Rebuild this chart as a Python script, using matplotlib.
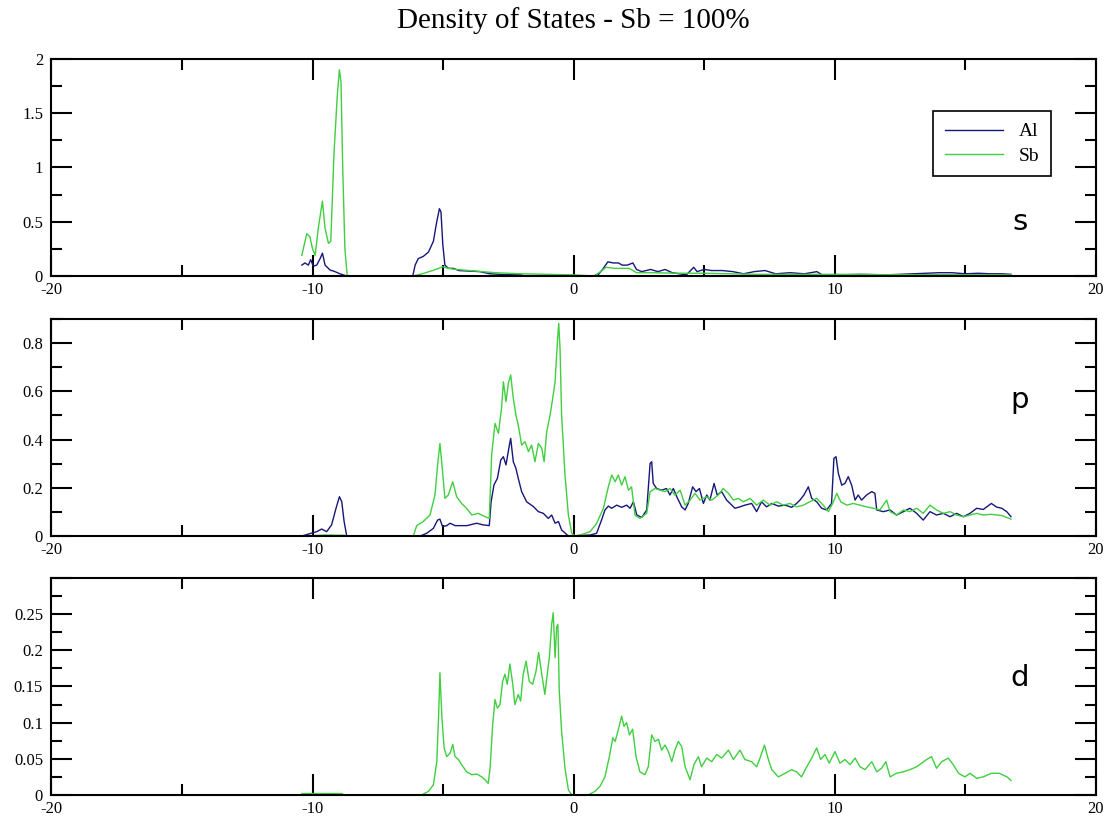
import matplotlib
matplotlib.use("Agg")
import matplotlib.pyplot as plt
from matplotlib.ticker import MultipleLocator, FuncFormatter

# ---- data (energy in eV, DOS) ----
# s orbitals
s_al_e = [-10.41, -10.29, -10.16, -10.07, -9.97, -9.84, -9.71, -9.62, -9.52, -9.33, -9.14, -8.95,
          -8.76, -8.69, -6.16, -6.07, -5.95, -5.76, -5.56, -5.37, -5.25, -5.14, -5.08, -5.01,
          -4.93, -4.80, -4.60, -4.40, -4.0, -3.6, -3.2, -2.6, -2.0, -1.9, 0.9, 1.11, 1.31, 1.52,
          1.72, 1.86, 2.06, 2.27, 2.41, 2.61, 2.95, 3.23, 3.5, 3.78, 4.32, 4.6, 4.73, 5.0, 5.28,
          5.69, 6.1, 6.51, 6.92, 7.33, 7.74, 8.29, 8.84, 9.32, 9.52, 10.07, 11.0, 12.0, 13.0,
          14.0, 14.5, 15.0, 15.5, 15.95, 16.4, 16.75]
s_al = [0.10, 0.12, 0.10, 0.15, 0.09, 0.10, 0.16, 0.21, 0.10, 0.055, 0.04, 0.02,
        0.005, 0.0, 0.0, 0.10, 0.16, 0.18, 0.22, 0.32, 0.49, 0.62, 0.59, 0.29,
        0.10, 0.07, 0.07, 0.05, 0.045, 0.04, 0.02, 0.012, 0.01, 0.0, 0.0, 0.06, 0.13, 0.12,
        0.12, 0.10, 0.10, 0.12, 0.06, 0.04, 0.06, 0.04, 0.06, 0.03, 0.01, 0.08, 0.04, 0.06, 0.05,
        0.05, 0.04, 0.02, 0.04, 0.05, 0.02, 0.03, 0.02, 0.04, 0.01, 0.01, 0.015, 0.01, 0.02,
        0.03, 0.03, 0.02, 0.025, 0.02, 0.02, 0.015]

s_sb_e = [-10.41, -10.22, -10.10, -10.0, -9.9, -9.78, -9.62, -9.52, -9.39, -9.30, -9.18, -9.05,
          -8.97, -8.91, -8.84, -8.76, -8.67, -6.14, -5.8, -5.4, -5.01, -4.8, -4.5, -4.0, -3.5,
          -3.0, -2.0, -1.0, 0.0, 0.77, 1.04, 1.24, 1.59, 2.13, 2.41, 3.0, 4.0, 5.0, 6.0, 7.0,
          8.0, 10.0, 12.0, 14.0, 16.0, 16.75]
s_sb = [0.19, 0.39, 0.36, 0.25, 0.19, 0.44, 0.69, 0.44, 0.30, 0.32, 1.12, 1.67,
        1.90, 1.79, 0.96, 0.25, 0.0, 0.0, 0.02, 0.05, 0.085, 0.07, 0.06, 0.05, 0.04,
        0.03, 0.02, 0.015, 0.01, 0.0, 0.04, 0.08, 0.07, 0.07, 0.03, 0.03, 0.025, 0.025, 0.02, 0.015,
        0.015, 0.015, 0.012, 0.012, 0.01, 0.01]

# p orbitals
p_al_e = [-10.41, -9.84, -9.65, -9.46, -9.27, -9.10, -8.97, -8.88, -8.79, -8.69, -5.88, -5.63,
          -5.37, -5.21, -5.12, -5.02, -4.86, -4.73, -4.54, -4.09, -3.71, -3.46, -3.23, -3.16,
          -3.05, -2.92, -2.79, -2.69, -2.59, -2.47, -2.41, -2.31, -2.21, -2.12, -1.99, -1.80,
          -1.54, -1.35, -1.16, -0.97, -0.84, -0.71, -0.58, -0.46, -0.2, 0.63, 0.88, 1.07, 1.2,
          1.33, 1.46, 1.65, 1.84, 2.03, 2.16, 2.29, 2.42, 2.61, 2.8, 2.93, 2.99, 3.05, 3.18, 3.37,
          3.56, 3.69, 3.82, 3.95, 4.14, 4.27, 4.39, 4.56, 4.69, 4.82, 4.97, 5.1, 5.22, 5.38, 5.5,
          5.67, 5.86, 5.99, 6.18, 6.37, 6.56, 6.82, 7.01, 7.2, 7.39, 7.59, 7.84, 8.1, 8.35, 8.54,
          8.67, 8.82, 8.99, 9.12, 9.31, 9.5, 9.69, 9.88, 9.97, 10.05, 10.14, 10.27, 10.39, 10.52,
          10.65, 10.78, 10.9, 11.03, 11.22, 11.42, 11.54, 11.61, 11.86, 12.12, 12.37, 12.63,
          12.88, 13.14, 13.39, 13.65, 13.9, 14.16, 14.42, 14.67, 14.93, 15.18, 15.44, 15.69,
          16.0, 16.2, 16.4, 16.6, 16.75]
p_al = [0.0, 0.018, 0.029, 0.018, 0.046, 0.115, 0.163, 0.142, 0.06, 0.0, 0.0, 0.011,
        0.032, 0.066, 0.07, 0.039, 0.043, 0.053, 0.043, 0.043, 0.053, 0.046, 0.043, 0.142,
        0.212, 0.239, 0.315, 0.329, 0.295, 0.371, 0.405, 0.308, 0.281, 0.239, 0.184, 0.142,
        0.122, 0.101, 0.094, 0.073, 0.087, 0.053, 0.06, 0.025, 0.0, 0.004, 0.011, 0.066, 0.108,
        0.124, 0.115, 0.128, 0.119, 0.128, 0.115, 0.142, 0.087, 0.077, 0.108, 0.301, 0.308, 0.218, 0.197, 0.19,
        0.197, 0.17, 0.197, 0.163, 0.121, 0.108, 0.135, 0.204, 0.184, 0.197, 0.135, 0.17, 0.149, 0.218, 0.17,
        0.184, 0.149, 0.135, 0.115, 0.121, 0.128, 0.135, 0.101, 0.142, 0.121, 0.135, 0.124, 0.128, 0.119, 0.135,
        0.149, 0.17, 0.204, 0.156, 0.142, 0.115, 0.108, 0.135, 0.322, 0.329, 0.26, 0.211, 0.218, 0.246,
        0.211, 0.149, 0.17, 0.149, 0.17, 0.184, 0.177, 0.108, 0.101, 0.108, 0.087, 0.101,
        0.115, 0.094, 0.066, 0.101, 0.087, 0.094, 0.08, 0.094, 0.08, 0.094, 0.115, 0.11,
        0.135, 0.12, 0.115, 0.10, 0.08]

p_sb_e = [-10.41, -9.5, -8.8, -8.7, -6.14, -6.01, -5.76, -5.5, -5.31, -5.21, -5.12, -5.03, -4.93,
          -4.80, -4.63, -4.48, -4.29, -4.1, -3.9, -3.65, -3.39, -3.23, -3.14, -3.01, -2.88,
          -2.76, -2.69, -2.59, -2.5, -2.41, -2.31, -2.21, -2.12, -1.99, -1.86, -1.73, -1.61,
          -1.48, -1.35, -1.22, -1.13, -1.03, -0.9, -0.8, -0.71, -0.62, -0.57, -0.52, -0.46,
          -0.33, -0.2, -0.07, 0.05, 0.25, 0.63, 0.88, 1.14, 1.33, 1.46, 1.59, 1.71, 1.84, 1.97,
          2.1, 2.22, 2.35, 2.54, 2.8, 2.93, 3.12, 3.31, 3.5, 3.69, 3.88, 4.08, 4.27, 4.46, 4.65,
          4.84, 5.1, 5.29, 5.54, 5.73, 5.93, 6.12, 6.31, 6.5, 6.76, 7.01, 7.27, 7.52, 7.78, 8.03,
          8.29, 8.54, 8.8, 9.05, 9.31, 9.56, 9.76, 9.95, 10.08, 10.23, 10.46, 10.71, 10.97,
          11.22, 11.48, 11.73, 11.99, 12.12, 12.37, 12.63, 12.88, 13.14, 13.39, 13.65, 13.9,
          14.16, 14.42, 14.67, 14.93, 15.18, 15.44, 15.69, 16.0, 16.4, 16.75]
p_sb = [0.0, 0.004, 0.003, 0.0, 0.0, 0.043, 0.06, 0.087, 0.17, 0.295, 0.384, 0.281, 0.156,
        0.17, 0.225, 0.163, 0.135, 0.115, 0.087, 0.094, 0.08, 0.073, 0.336, 0.467, 0.426,
        0.53, 0.64, 0.557, 0.633, 0.668, 0.571, 0.502, 0.46, 0.377, 0.391, 0.35, 0.377,
        0.308, 0.384, 0.364, 0.308, 0.433, 0.502, 0.571, 0.64, 0.806, 0.882, 0.779, 0.502,
        0.253, 0.087, 0.011, 0.0, 0.004, 0.018, 0.052, 0.115, 0.204, 0.253, 0.225, 0.253, 0.211, 0.246,
        0.19, 0.204, 0.087, 0.073, 0.094, 0.184, 0.197, 0.19, 0.184, 0.197, 0.17, 0.19, 0.128, 0.149, 0.177,
        0.149, 0.163, 0.149, 0.17, 0.197, 0.177, 0.149, 0.156, 0.142, 0.156, 0.128, 0.149, 0.128, 0.142, 0.128,
        0.135, 0.121, 0.128, 0.142, 0.156, 0.128, 0.101, 0.142, 0.177, 0.142, 0.128, 0.135, 0.128,
        0.121, 0.115, 0.108, 0.149, 0.101, 0.087, 0.108, 0.101, 0.115, 0.094, 0.128, 0.108,
        0.094, 0.101, 0.087, 0.08, 0.087, 0.094, 0.087, 0.09, 0.085, 0.07]

# d orbitals (Sb only)
d_sb_e = [-10.41, -9.5, -8.88, -8.8, -5.82, -5.56, -5.37, -5.24, -5.17, -5.12, -5.05, -4.96, -4.86,
          -4.73, -4.63, -4.54, -4.41, -4.29, -4.1, -3.9, -3.71, -3.52, -3.39, -3.27, -3.2, -3.1,
          -3.01, -2.92, -2.82, -2.72, -2.63, -2.54, -2.44, -2.33, -2.25, -2.12, -2.03, -1.93,
          -1.82, -1.7, -1.57, -1.44, -1.34, -1.22, -1.1, -1.01, -0.93, -0.84, -0.78, -0.71,
          -0.65, -0.6, -0.55, -0.46, -0.33, -0.2, -0.07, 0.56, 0.82, 1.01, 1.2, 1.37, 1.5, 1.59,
          1.71, 1.84, 1.93, 2.03, 2.14, 2.26, 2.39, 2.54, 2.73, 2.86, 2.99, 3.12, 3.25, 3.37,
          3.5, 3.63, 3.76, 3.88, 4.01, 4.14, 4.27, 4.46, 4.61, 4.78, 4.9, 5.1, 5.29, 5.48, 5.67,
          5.93, 6.12, 6.37, 6.56, 6.82, 7.01, 7.14, 7.31, 7.46, 7.59, 7.84, 8.1, 8.35, 8.54,
          8.73, 8.93, 9.12, 9.31, 9.46, 9.63, 9.79, 10.01, 10.2, 10.39, 10.59, 10.78, 10.97,
          11.16, 11.42, 11.61, 11.8, 11.96, 12.12, 12.37, 12.63, 12.88, 13.14, 13.33, 13.52,
          13.71, 13.9, 14.1, 14.35, 14.54, 14.74, 14.99, 15.18, 15.44, 15.69, 16.0, 16.3, 16.6,
          16.75]
d_sb = [0.002, 0.002, 0.002, 0.0, 0.0, 0.005, 0.014, 0.046, 0.111, 0.169, 0.111, 0.065, 0.053,
        0.058, 0.07, 0.053, 0.049, 0.042, 0.032, 0.028, 0.029, 0.025, 0.021, 0.016, 0.037, 0.097,
        0.132, 0.12, 0.125, 0.157, 0.167, 0.153, 0.181, 0.153, 0.125, 0.139, 0.13, 0.167,
        0.185, 0.157, 0.153, 0.171, 0.197, 0.167, 0.139, 0.167, 0.19, 0.236, 0.252, 0.19,
        0.232, 0.236, 0.144, 0.088, 0.037, 0.007, 0.0, 0.0, 0.005, 0.012, 0.025, 0.053, 0.079, 0.074,
        0.09, 0.109, 0.095, 0.1, 0.083, 0.091, 0.053, 0.032, 0.028, 0.039, 0.083, 0.074, 0.077, 0.062,
        0.069, 0.06, 0.046, 0.062, 0.074, 0.067, 0.039, 0.021, 0.042, 0.053, 0.039, 0.051, 0.046, 0.056, 0.051,
        0.062, 0.049, 0.062, 0.049, 0.046, 0.039, 0.051, 0.069, 0.049, 0.035, 0.025, 0.03, 0.035, 0.032,
        0.025, 0.039, 0.051, 0.065, 0.049, 0.056, 0.044, 0.06, 0.044, 0.049, 0.042, 0.051, 0.039,
        0.035, 0.046, 0.032, 0.037, 0.046, 0.025, 0.03, 0.032, 0.035, 0.039, 0.044, 0.049,
        0.053, 0.037, 0.046, 0.051, 0.042, 0.03, 0.025, 0.03, 0.023, 0.025, 0.03, 0.03, 0.025,
        0.02]

al_color = "#17177a"
sb_color = "#3fcf3f"

plt.rcParams['font.family'] = ['Liberation Serif', 'DejaVu Serif']
plt.rcParams['axes.unicode_minus'] = False

fig = plt.figure(figsize=(11.11, 8.25), dpi=100)
left, width, height = 0.0463, 0.940, 0.263
ax_s = fig.add_axes([left, 0.6655, width, height])
ax_p = fig.add_axes([left, 0.3503, width, height])
ax_d = fig.add_axes([left, 0.0364, width, height])

ax_s.plot(s_al_e, s_al, color=al_color, lw=1.0, label="Al")
ax_s.plot(s_sb_e, s_sb, color=sb_color, lw=1.0, label="Sb")
ax_p.plot(p_al_e, p_al, color=al_color, lw=1.0)
ax_p.plot(p_sb_e, p_sb, color=sb_color, lw=1.0)
ax_d.plot(d_sb_e, d_sb, color=sb_color, lw=1.0)


def ylabel_fmt(top):
    # label major ticks, but leave the top edge unlabelled when it is not a "nice" tick
    def fmt(v, pos):
        if v > top + 1e-9:
            return ""
        return "%g" % round(v, 4)
    return FuncFormatter(fmt)


# per panel: (axis, ymax, major step, minor step, highest labelled tick, letter, baseline)
panels = [(ax_s, 2.0, 0.5, 0.25, 2.0, "s", 0.212),
          (ax_p, 0.9, 0.2, 0.1, 0.8, "p", 0.59),
          (ax_d, 0.3, 0.05, 0.025, 0.25, "d", 0.50)]

for ax, ymax, major, minor, top, letter, ly in panels:
    ax.set_xlim(-20, 20)
    ax.set_ylim(0, ymax)
    ax.xaxis.set_major_locator(MultipleLocator(10))
    ax.xaxis.set_minor_locator(MultipleLocator(5))
    ax.yaxis.set_major_locator(MultipleLocator(major))
    ax.yaxis.set_minor_locator(MultipleLocator(minor))
    ax.yaxis.set_major_formatter(ylabel_fmt(top))
    ax.tick_params(which="both", direction="in", top=True, right=True, width=1.5,
                   labelsize=12)
    ax.tick_params(which="major", length=15)
    ax.tick_params(which="minor", length=8)
    ax.tick_params(axis="x", pad=4)
    ax.tick_params(axis="y", pad=6)
    for sp in ax.spines.values():
        sp.set_linewidth(1.5)
    ax.text(0.927, ly, letter, transform=ax.transAxes, ha="center", va="baseline",
            fontsize=21, family="DejaVu Sans")

leg = ax_s.legend(loc="upper right", bbox_to_anchor=(0.957, 0.76), borderaxespad=0,
                  fancybox=False, edgecolor="black", fontsize=14, handlelength=3.0,
                  framealpha=1, borderpad=0.6, labelspacing=0.35)
leg.get_frame().set_linewidth(1.2)

fig.text(0.516, 0.975, "Density of States - Sb = 100%", ha="center", va="center",
         fontsize=21)

fig.savefig("out.png", dpi=100)
